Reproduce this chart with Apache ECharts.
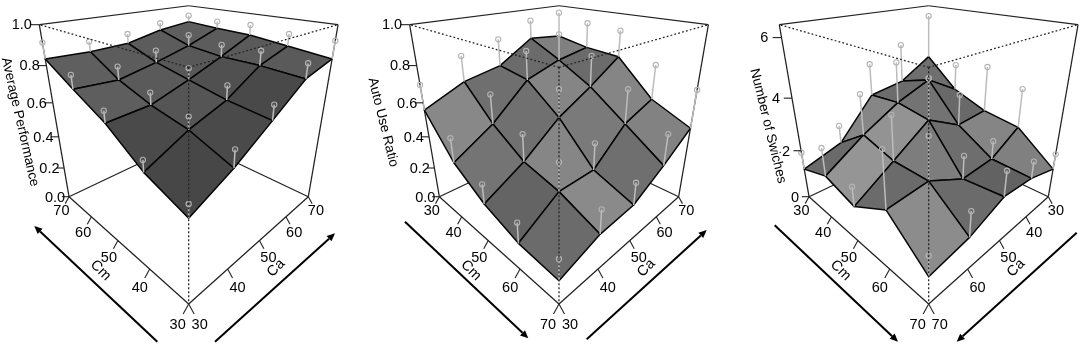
<!DOCTYPE html>
<html><head><meta charset="utf-8">
<style>html,body{margin:0;padding:0;background:#fff}#c{width:1084px;height:348px}</style>
<script src="https://cdn.jsdelivr.net/npm/echarts@6/dist/echarts.min.js"></script>
</head><body><div id="c"></div>
<script>
// Rows follow the Cm tick order, columns the Ca tick order (first entry is at the front corner).
const cmUp = [30,40,50,60,70], caUp = [30,40,50,60,70];
const cmDown = [70,60,50,40,30], caDown = [70,60,50,40,30];

const perfSurface = [
 [.444,.540,.663,.789,.834],
 [.521,.619,.686,.800,.857],
 [.651,.661,.725,.799,.880],
 [.739,.725,.767,.818,.886],
 [.834,.826,.832,.876,.898]];
const perfPoints = [
 [.507,.625,.736,.862,.924],
 [.578,.682,.758,.875,.921],
 [.709,.723,.786,.863,.937],
 [.808,.795,.832,.880,.927],
 [.915,.881,.886,.917,.937]];
const autoSurface = [
 [.133,.205,.221,.328,.452],
 [.154,.298,.302,.478,.550],
 [.227,.351,.515,.626,.752],
 [.345,.478,.666,.732,.766],
 [.559,.656,.697,.824,.802]];
const autoPoints = [
 [.248,.339,.348,.508,.671],
 [.269,.458,.457,.675,.752],
 [.339,.508,.675,.803,.905],
 [.485,.647,.830,.884,.917],
 [.698,.803,.855,.933,.956]];
const swSurface = [
 [.99,1.20,1.72,1.60,1.23],
 [2.15,2.28,1.58,1.66,2.37],
 [1.35,2.27,3.20,2.47,2.57],
 [1.69,2.63,3.38,3.88,3.08],
 [1.23,1.71,3.25,3.45,4.21]];
const swPoints = [
 [1.69,2.11,2.64,2.25,1.85],
 [4.00,3.77,2.46,2.38,3.91],
 [2.08,3.90,4.69,3.68,4.40],
 [2.75,4.14,4.90,3.94,4.15],
 [1.92,2.43,4.51,4.99,5.97]];

const perfTicks = [0,.2,.4,.6,.8,1], autoTicks = [0,.2,.4,.6,.8,1], swTicks = [0,2,4,6];

// grey level of each surface facet
const perfShade = [[0x47,0x4a,0x49,0x5a],[0x4a,0x55,0x50,0x5a],[0x5e,0x5a,0x58,0x5c],[0x5f,0x5c,0x5c,0x5e]];
const autoShade = [[0x6b,0x8a,0x6f,0x82],[0x64,0x86,0x7a,0x85],[0x74,0x70,0x85,0x6b],[0x88,0x6f,0x6b,0x80]];
const swShade   = [[0x8c,0x6b,0x62,0x80],[0x6b,0x7d,0x6e,0x85],[0x95,0x93,0x73,0x69],[0x6a,0x86,0x6c,0x6f]];

const panels = [
 {fx:188.67, cm:cmUp, ca:caUp, surf:perfSurface, pts:perfPoints, ticks:perfTicks, zMax:1, dec:1, shade:perfShade,
  title:'Average Performance', tx:20, ty:122, rot:-77.2,
  arrows:[[157.3,341.7,34.3,226],[215,341.7,335,233.3]]},
 {fx:559, cm:cmDown, ca:caUp, surf:autoSurface, pts:autoPoints, ticks:autoTicks, zMax:1, dec:1, shade:autoShade,
  title:'Auto Use Ratio', tx:383, ty:122.3, rot:-76.1,
  arrows:[[405,221.7,528.3,338.3],[586.7,339.3,706.7,230]]},
 {fx:928.67, cm:cmDown, ca:caDown, surf:swSurface, pts:swPoints, ticks:swTicks, zMax:6.39, dec:0, shade:swShade,
  title:'Number of Swiches', tx:768, ty:126, rot:-76.2,
  arrows:[[774.7,225.3,898,341.7],[1076.7,232.7,956.7,341.7]]}
];

const A = .447, C = -.288, FY = 304, VX = 387.33, VY = -43.33, VZ = 889;
const FONT = '"Liberation Sans", Arial, sans-serif', FS = 14.5;

function projector(fx){
  return function(u,v,w){
    const den = 1 + A*(u+v) + C*w;
    return {
      x:(fx + A*u*(fx-VX) + A*v*(fx+VX) + C*w*fx)/den,
      y:(FY + A*(u+v)*VY + C*w*VZ)/den,
      den:den};
  };
}
function layer(items, draw){
  return {type:'custom', coordinateSystem:'cartesian2d', silent:true, animation:false,
    data:items.map((_,k)=>[k,0]),
    renderItem:(params,api)=>draw(items[params.dataIndex],api)};
}
const xy=(api,p)=>api.coord([p.x,p.y]);
function line(api,a,b,stroke,w,dash){
  const p=xy(api,a),q=xy(api,b);
  return {type:'line',shape:{x1:p[0],y1:p[1],x2:q[0],y2:q[1]},
    style:{stroke:stroke,lineWidth:w,lineDash:dash||null,fill:null}};
}
function text(api,s,x,y,rot,size){
  const p=api.coord([x,y]);
  return {type:'text',x:p[0],y:p[1],rotation:(rot||0)*Math.PI/180,
    style:{text:s,x:0,y:0,fill:'#000',fontSize:size||FS,fontFamily:FONT,align:'center',verticalAlign:'middle'}};
}

const series=[];
panels.forEach(P=>{
  const pr=projector(P.fx), n=[0,1,2,3,4];
  const F=pr(0,0,0),L=pr(1,0,0),R=pr(0,1,0),B=pr(1,1,0),
        T=pr(0,0,1),L1=pr(1,0,1),R1=pr(0,1,1),B1=pr(1,1,1);
  // back and floor frame, below the surface
  series.push(layer([[L,B],[R,B],[F,L],[F,R],[L,L1],[R,R1],[L1,B1],[R1,B1]],
    (s,api)=>line(api,s[0],s[1],'#222',1.25)));
  // surface facets, far to near
  const cells=[];
  n.slice(0,4).forEach(i=>n.slice(0,4).forEach(j=>cells.push([i,j])));
  cells.sort((a,b)=>(b[0]+b[1])-(a[0]+a[1]));
  const V=(i,j,z)=>pr(i/4,j/4,z/P.zMax);
  series.push(layer(cells,(c,api)=>{
    const i=c[0],j=c[1],g=P.shade[i][j];
    const pts=[[i,j],[i+1,j],[i+1,j+1],[i,j+1]].map(q=>xy(api,V(q[0],q[1],P.surf[q[0]][q[1]])));
    return {type:'polygon',shape:{points:pts},
      style:{fill:'rgb('+g+','+g+','+g+')',stroke:'#050505',lineWidth:1.5,lineJoin:'round'}};
  }));
  // residual stems and points
  const verts=[];
  n.forEach(i=>n.forEach(j=>verts.push([i,j])));
  series.push(layer(verts,(q,api)=>line(api,V(q[0],q[1],P.surf[q[0]][q[1]]),V(q[0],q[1],P.pts[q[0]][q[1]]),'#bcbcbc',1.5)));
  series.push(layer(verts,(q,api)=>{
    const c=xy(api,V(q[0],q[1],P.pts[q[0]][q[1]]));
    return {type:'circle',shape:{cx:c[0],cy:c[1],r:2.6},style:{fill:'none',stroke:'#b4b4b4',lineWidth:1.1}};
  }));
  // dotted front edges, over the surface
  series.push(layer([[T,L1],[T,R1],[T,F]],(s,api)=>line(api,s[0],s[1],'#222',1.25,[1.8,2.2])));
  // floor ticks and labels
  const flo=[];
  n.forEach(k=>{flo.push({u:k/4,v:0,sx:-1,lab:P.cm[k]});flo.push({u:0,v:k/4,sx:1,lab:P.ca[k]});});
  series.push(layer(flo,(t,api)=>{
    const p=pr(t.u,t.v,0);
    return line(api,p,{x:p.x+t.sx*5.5/p.den,y:p.y+10/p.den},'#222',1.1);
  }));
  series.push(layer(flo,(t,api)=>{
    const p=pr(t.u,t.v,0);
    return text(api,String(t.lab),p.x+t.sx*11/p.den,p.y+21/p.den);
  }));
  // vertical axis ticks and labels
  series.push(layer(P.ticks,(z,api)=>{
    const p=pr(1,0,z/P.zMax);
    return line(api,p,{x:p.x-10.4/p.den,y:p.y},'#222',1.1);
  }));
  series.push(layer(P.ticks,(z,api)=>{
    const p=pr(1,0,z/P.zMax);
    return text(api,z.toFixed(P.dec),p.x-20.3/p.den,p.y+0.8);
  }));
  // axis titles
  series.push(layer([{s:P.title,x:P.tx,y:P.ty,r:P.rot,f:13.6},
                     {s:'Cm',x:P.fx-88,y:270.5,r:-45},
                     {s:'Ca',x:P.fx+87.3,y:268,r:45}],
    (t,api)=>text(api,t.s,t.x,t.y,t.r,t.f)));
  // direction arrows
  series.push(layer(P.arrows,(a,api)=>{
    const d=Math.hypot(a[2]-a[0],a[3]-a[1]),ux=(a[2]-a[0])/d,uy=(a[3]-a[1])/d,hl=8,hw=3.6;
    const bx=a[2]-ux*hl,by=a[3]-uy*hl;
    const tail=api.coord([a[0],a[1]]),base=api.coord([bx,by]);
    return {type:'group',children:[
      {type:'line',shape:{x1:tail[0],y1:tail[1],x2:base[0],y2:base[1]},style:{stroke:'#000',lineWidth:2}},
      {type:'polygon',shape:{points:[api.coord([a[2],a[3]]),api.coord([bx-uy*hw,by+ux*hw]),api.coord([bx+uy*hw,by-ux*hw])]},style:{fill:'#000'}}
    ]};
  }));
});

const chart=echarts.init(document.getElementById('c'),null,{renderer:'canvas'});
chart.setOption({
  animation:false,backgroundColor:'#fff',
  grid:{left:0,right:0,top:0,bottom:0},
  xAxis:{type:'value',min:0,max:1084,show:false},
  yAxis:{type:'value',min:0,max:348,inverse:true,show:false},
  series:series
});
</script></body></html>
